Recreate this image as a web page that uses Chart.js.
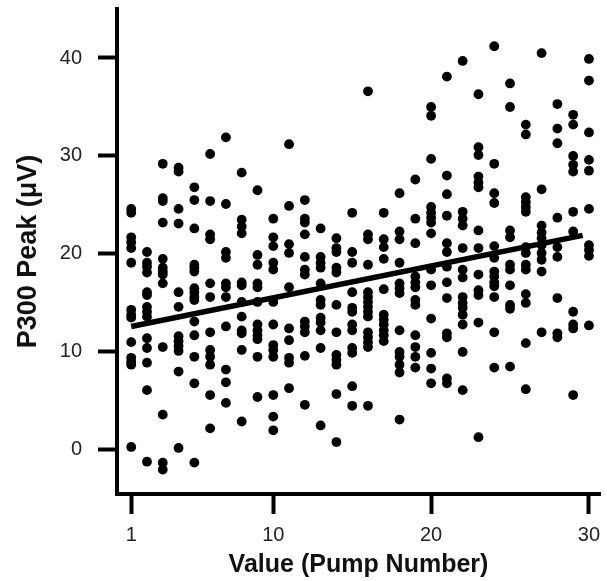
<!DOCTYPE html>
<html>
<head>
<meta charset="utf-8">
<script src="https://cdn.jsdelivr.net/npm/chart.js@4.4.0/dist/chart.umd.min.js"></script>
<style>
html, body { margin: 0; padding: 0; background: #fff; }
</style>
</head>
<body>
<canvas id="peakChart" width="607" height="581"></canvas>
<script>
// pump number (x) and the P300 peaks read at each pump (y, in uV)
var pumps = [1, 2, 3, 4, 5, 6, 7, 8, 9, 10, 11, 12, 13, 14, 15, 16, 17, 18, 19, 20, 21, 22, 23, 24, 25, 26, 27, 28, 29, 30];
var peaks = [
    [24.6, 24.2, 21.7, 21.2, 20.6, 19.1, 14.3, 13.8, 13.5, 11.0, 9.4, 9.0, 8.7, 0.3],
    [20.2, 19.1, 18.7, 18.1, 16.1, 15.8, 14.6, 14.1, 13.6, 11.4, 10.4, 8.9, 6.1, -1.2],
    [29.2, 25.7, 25.4, 23.2, 19.5, 18.6, 18.2, 17.9, 17.0, 10.5, 3.6, -1.3, -2.0],
    [28.8, 28.4, 24.6, 23.1, 16.1, 14.6, 11.6, 11.1, 10.6, 10.1, 8.0, 0.2],
    [26.8, 25.5, 22.6, 18.9, 18.6, 18.2, 16.5, 16.1, 15.6, 15.3, 13.1, 11.7, 9.5, 6.8, -1.3],
    [30.2, 25.4, 22.0, 21.5, 17.0, 15.6, 12.0, 10.2, 9.5, 8.7, 5.6, 2.2],
    [31.9, 25.1, 20.2, 19.6, 17.0, 16.6, 15.6, 12.6, 8.2, 6.9, 4.8],
    [28.3, 23.5, 22.8, 22.1, 17.1, 16.8, 15.1, 13.6, 12.2, 11.9, 10.2, 2.9],
    [26.5, 19.9, 18.9, 17.0, 16.6, 15.1, 12.8, 12.2, 11.7, 11.3, 9.5, 5.4],
    [23.6, 21.7, 20.8, 19.1, 18.4, 15.1, 12.8, 10.7, 10.2, 9.5, 5.6, 3.4, 2.0],
    [31.2, 24.9, 21.0, 20.1, 16.6, 12.4, 11.2, 9.4, 8.9, 6.3],
    [25.5, 23.6, 23.2, 22.0, 19.7, 18.4, 17.9, 13.1, 12.6, 12.0, 9.6, 4.6],
    [22.6, 19.7, 19.1, 18.6, 17.0, 15.3, 14.8, 13.5, 13.0, 12.2, 10.4, 2.5],
    [21.6, 20.6, 20.2, 18.6, 18.1, 14.8, 12.0, 9.7, 9.2, 8.7, 5.7, 0.8],
    [24.2, 20.2, 19.1, 16.1, 14.5, 14.1, 12.8, 12.2, 10.4, 9.9, 6.5, 4.5],
    [36.6, 22.0, 21.5, 18.9, 16.1, 15.6, 15.1, 14.6, 14.1, 13.6, 12.0, 11.5, 11.0, 10.5, 4.5],
    [24.2, 21.5, 20.7, 19.5, 16.4, 13.8, 13.3, 12.8, 12.2, 11.7, 11.1],
    [26.2, 22.3, 21.5, 19.1, 17.0, 16.5, 16.0, 12.2, 10.0, 9.5, 8.7, 7.9, 3.1],
    [27.6, 23.6, 21.1, 17.7, 17.1, 16.6, 15.3, 14.8, 11.7, 10.5, 9.5, 8.4],
    [35.0, 34.1, 29.7, 24.8, 24.2, 23.7, 23.2, 22.1, 18.4, 16.8, 13.4, 9.9, 8.3, 6.8],
    [38.1, 28.0, 26.1, 23.9, 21.1, 20.2, 18.7, 17.1, 15.5, 11.9, 11.5, 7.3, 6.8],
    [39.7, 24.3, 23.6, 22.9, 20.6, 18.4, 17.6, 15.6, 15.0, 14.5, 13.8, 12.8, 10.0, 6.1],
    [36.3, 30.9, 30.1, 27.9, 27.3, 26.8, 22.4, 20.6, 17.9, 16.3, 15.8, 13.0, 1.3],
    [41.2, 29.2, 26.2, 25.2, 20.8, 19.6, 18.2, 17.7, 17.1, 16.7, 15.6, 12.0, 8.4],
    [37.4, 35.0, 22.4, 21.7, 18.9, 18.4, 16.8, 14.8, 14.4, 8.5],
    [33.2, 32.2, 25.8, 25.3, 24.8, 24.3, 20.7, 20.1, 18.9, 18.4, 15.9, 15.0, 10.9, 6.2],
    [40.5, 26.6, 22.9, 22.2, 21.6, 20.9, 20.1, 19.4, 18.2, 12.0],
    [35.3, 32.8, 31.3, 23.7, 20.7, 19.7, 15.5, 11.9, 11.5],
    [34.2, 33.2, 30.0, 29.1, 28.4, 24.3, 22.3, 14.1, 12.8, 12.4, 5.6],
    [39.9, 37.7, 32.4, 29.6, 28.5, 24.6, 20.9, 20.4, 19.8, 12.7]
];

// fitted regression line, read at its two ends
var fitX = [1, 29.6];
var fitY = [12.6, 21.9];

var xTicks = [1, 10, 20, 30];
var yTicks = [0, 10, 20, 30, 40];

var points = [];
for (var i = 0; i < pumps.length; i++) {
    for (var j = 0; j < peaks[i].length; j++) {
        points.push({x: pumps[i], y: peaks[i][j]});
    }
}
var fitLine = [];
for (var k = 0; k < fitX.length; k++) {
    fitLine.push({x: fitX[k], y: fitY[k]});
}

var fam = 'Liberation Sans, Arial, sans-serif';
var tickFont = {family: fam, size: 20};

var ctx = document.getElementById('peakChart').getContext('2d');
var chart = new Chart(ctx, {
    type: 'scatter',
    data: {
        datasets: [{
            type: 'line',
            data: fitLine,
            borderColor: '#000',
            borderWidth: 5.5,
            pointRadius: 0,
            fill: false
        }, {
            data: points,
            backgroundColor: '#000',
            borderWidth: 0,
            pointRadius: 4.9
        }]
    },
    options: {
        responsive: false,
        devicePixelRatio: 1,
        animation: false,
        layout: {padding: {top: 9, right: 7, left: 0, bottom: 0}},
        plugins: {legend: {display: false}, tooltip: {enabled: false}},
        scales: {
            x: {
                type: 'linear',
                min: 0.1,
                max: 30.7,
                afterBuildTicks: function(scale) {
                    scale.ticks = xTicks.map(function(v) { return {value: v}; });
                },
                afterFit: function(scale) {
                    scale.height = 87;
                    scale.paddingLeft = 0;
                    scale.paddingRight = 0;
                },
                border: {display: true, color: '#000', width: 4},
                grid: {drawOnChartArea: false, drawTicks: true, tickLength: 20, tickWidth: 4, tickColor: '#000'},
                ticks: {color: '#222', font: tickFont, padding: 9, maxRotation: 0},
                title: {display: true, text: 'Value (Pump Number)', color: '#111', font: {family: fam, size: 25, weight: 'bold'}, padding: {top: 0, bottom: 1}}
            },
            y: {
                min: -4.5,
                max: 45,
                afterBuildTicks: function(scale) {
                    scale.ticks = yTicks.map(function(v) { return {value: v}; });
                },
                afterFit: function(scale) {
                    scale.width = 117;
                    scale.paddingTop = 0;
                    scale.paddingBottom = 0;
                },
                border: {display: true, color: '#000', width: 4},
                grid: {drawOnChartArea: false, drawTicks: true, tickLength: 19, tickWidth: 4, tickColor: '#000'},
                ticks: {color: '#222', font: tickFont, padding: 16},
                title: {display: true, text: 'P300 Peak (\u03bcV)', color: '#111', font: {family: fam, size: 27, weight: 'bold'}, padding: {top: 12, bottom: 0}}
            }
        }
    }
});
</script>
</body>
</html>
